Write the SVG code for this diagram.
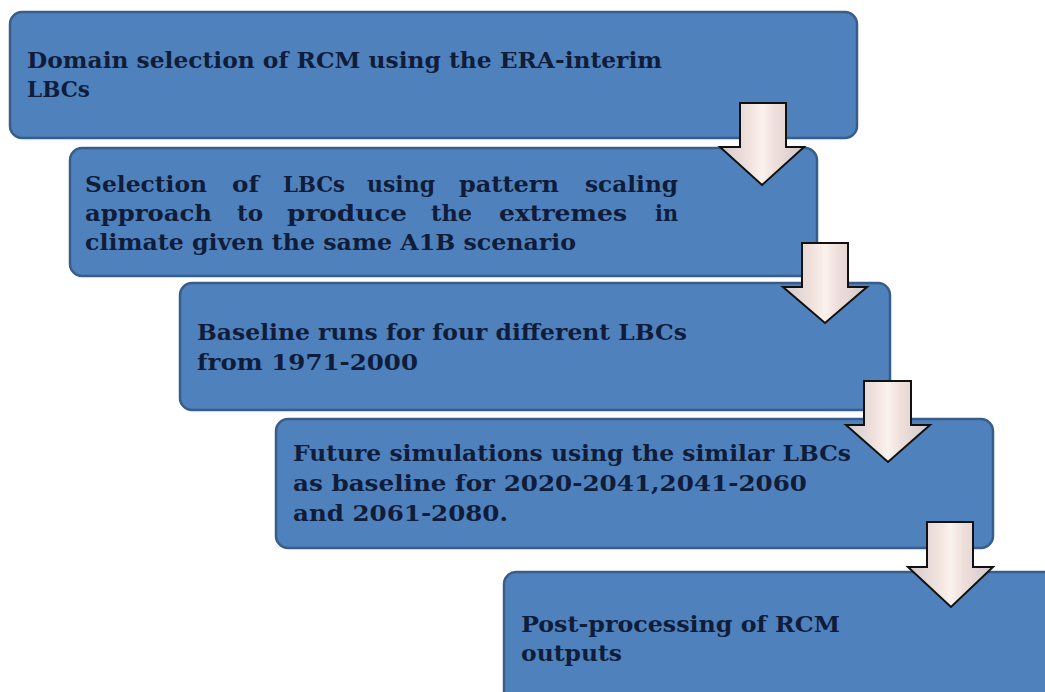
<svg xmlns="http://www.w3.org/2000/svg" width="1045" height="692" viewBox="0 0 1045 692">
<style>
.box{fill:#4f81bd;stroke:#385d8a;stroke-width:2.5}
.t{font-family:"DejaVu Serif","Liberation Serif",serif;font-weight:bold;font-size:22px;fill:#0f1d3a}
.arr{fill:url(#ag);stroke:#111;stroke-width:2;stroke-linejoin:miter}
</style>
<defs>
<linearGradient id="ag" x1="0" y1="0" x2="1" y2="0">
<stop offset="0" stop-color="#d3c9cb"/>
<stop offset="0.35" stop-color="#f1e2dd"/>
<stop offset="0.5" stop-color="#fbf2ee"/>
<stop offset="0.65" stop-color="#efdfda"/>
<stop offset="1" stop-color="#d1c8ca"/>
</linearGradient>
</defs>
<rect width="1045" height="692" fill="#fff"/>
<g id="node1">
<rect class="box" x="10" y="12" width="847" height="126" rx="12"/>
<text class="t" x="27" y="68" textLength="635" lengthAdjust="spacingAndGlyphs">Domain selection of RCM using the ERA-interim</text>
<text class="t" x="27" y="97" textLength="63" lengthAdjust="spacingAndGlyphs">LBCs</text>
</g>
<g id="node2">
<rect class="box" x="70" y="148" width="747" height="128" rx="12"/>
<text class="t" x="85" y="192" textLength="122" lengthAdjust="spacingAndGlyphs">Selection</text>
<text class="t" x="232" y="192" textLength="27" lengthAdjust="spacingAndGlyphs">of</text>
<text class="t" x="283" y="192" textLength="62" lengthAdjust="spacingAndGlyphs">LBCs</text>
<text class="t" x="367" y="192" textLength="68" lengthAdjust="spacingAndGlyphs">using</text>
<text class="t" x="459" y="192" textLength="100" lengthAdjust="spacingAndGlyphs">pattern</text>
<text class="t" x="585" y="192" textLength="93" lengthAdjust="spacingAndGlyphs">scaling</text>
<text class="t" x="85" y="221" textLength="127" lengthAdjust="spacingAndGlyphs">approach</text>
<text class="t" x="237" y="221" textLength="26" lengthAdjust="spacingAndGlyphs">to</text>
<text class="t" x="287" y="221" textLength="120" lengthAdjust="spacingAndGlyphs">produce</text>
<text class="t" x="431" y="221" textLength="41" lengthAdjust="spacingAndGlyphs">the</text>
<text class="t" x="499" y="221" textLength="128" lengthAdjust="spacingAndGlyphs">extremes</text>
<text class="t" x="655" y="221" textLength="23" lengthAdjust="spacingAndGlyphs">in</text>
<text class="t" x="85" y="250" textLength="491" lengthAdjust="spacingAndGlyphs">climate given the same A1B scenario</text>
</g>
<g id="node3">
<rect class="box" x="180" y="283" width="710" height="127" rx="12"/>
<text class="t" x="197" y="340" textLength="490" lengthAdjust="spacingAndGlyphs">Baseline runs for four different LBCs</text>
<text class="t" x="197" y="370" textLength="221" lengthAdjust="spacingAndGlyphs">from 1971-2000</text>
</g>
<g id="node4">
<rect class="box" x="276" y="419" width="717" height="129" rx="12"/>
<text class="t" x="293" y="461" textLength="558" lengthAdjust="spacingAndGlyphs">Future simulations using the similar LBCs</text>
<text class="t" x="293" y="491" textLength="514" lengthAdjust="spacingAndGlyphs">as baseline for 2020-2041,2041-2060</text>
<text class="t" x="293" y="521" textLength="215" lengthAdjust="spacingAndGlyphs">and 2061-2080.</text>
</g>
<g id="node5">
<rect class="box" x="504" y="572" width="560" height="140" rx="12"/>
<text class="t" x="521" y="632" textLength="319" lengthAdjust="spacingAndGlyphs">Post-processing of  RCM</text>
<text class="t" x="521" y="661" textLength="101" lengthAdjust="spacingAndGlyphs">outputs</text>
</g>
<g id="connectors">
<path class="arr" d="M740,103 H786 V147 H804 L762,185 L720,147 H740 Z"/>
<path class="arr" d="M802,243 H848 V287 H867 L825,323 L783,287 H802 Z"/>
<path class="arr" d="M864,381 H911 V425 H930 L888,462 L846,425 H864 Z"/>
<path class="arr" d="M927,522 H973 V567 H993 L951,607 L908,567 H927 Z"/>
</g>
</svg>
